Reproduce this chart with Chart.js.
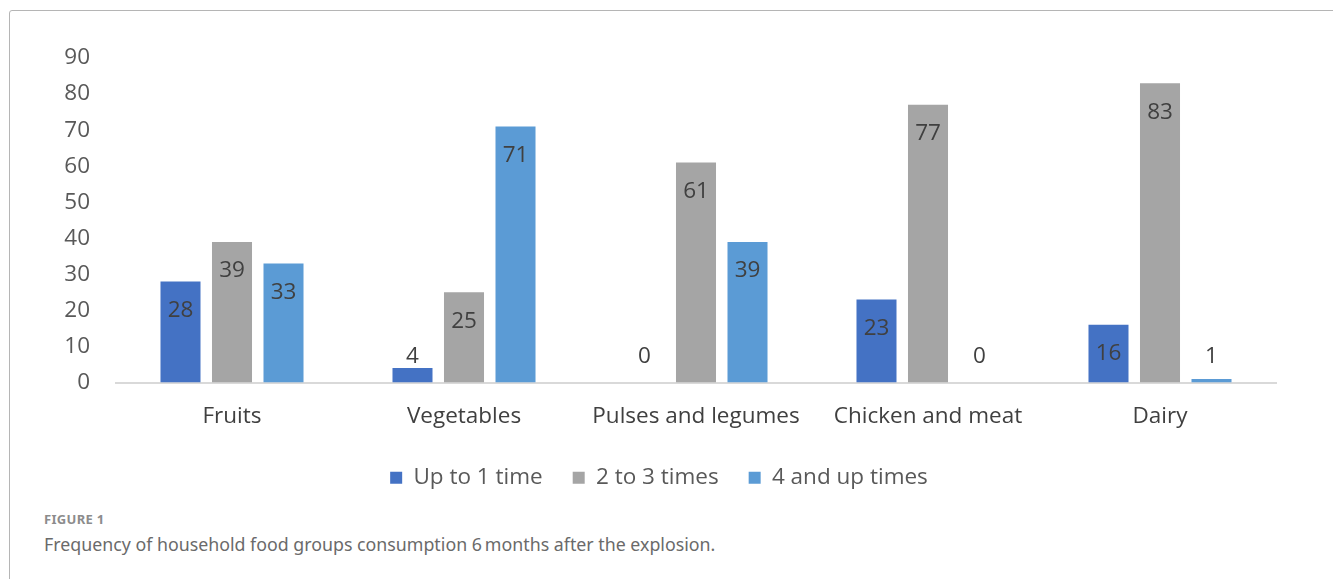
<!DOCTYPE html>
<html>
<head>
<meta charset="utf-8">
<script src="https://cdn.jsdelivr.net/npm/chart.js@4.4.0/dist/chart.umd.min.js"></script>
<style>
  html, body { margin: 0; padding: 0; background: #fff; }
  body { width: 1333px; height: 579px; position: relative; overflow: hidden; }
  #frame {
    position: absolute; left: 9px; top: 10px; width: 1330px; height: 600px;
    border: 1.5px solid #b5b5b5; border-radius: 3px; box-sizing: border-box;
  }
  #wrap { position: absolute; left: 10px; top: 11px; width: 1320px; height: 490px; }
  #fig-label {
    position: absolute; left: 44px; top: 510px; letter-spacing: 0.3px;
    font-family: 'Noto Sans', sans-serif; font-weight: bold; font-size: 13px; color: #8c8c8c;
  }
  #fig-caption {
    position: absolute; left: 44px; top: 532px;
    font-family: 'Noto Sans', sans-serif; font-size: 17.8px; color: #6a6a6a;
  }
</style>
</head>
<body>
<div id="frame"></div>
<div id="wrap"><canvas id="chart"></canvas></div>
<div id="fig-label">FIGURE 1</div>
<div id="fig-caption">Frequency of household food groups consumption 6&#8201;months after the explosion.</div>
<script>
const categories = ['Fruits', 'Vegetables', 'Pulses and legumes', 'Chicken and meat', 'Dairy'];
const upToOne = [28, 4, 0, 23, 16];
const twoToThree = [39, 25, 61, 77, 83];
const fourAndUp = [33, 71, 39, 0, 1];
const seriesNames = ['Up to 1 time', '2 to 3 times', '4 and up times'];
const yTicks = [0, 10, 20, 30, 40, 50, 60, 70, 80, 90];

const fontFamily = "'Open Sans', sans-serif";
const fontSize = 22.5;

// value labels: inside the bar top, pushed above when the bar is too short
const valueLabels = {
    id: 'valueLabels',
    afterDatasetsDraw(chart) {
        const ctx = chart.ctx;
        const base = chart.scales.y.getPixelForValue(0);
        ctx.save();
        ctx.font = fontSize + 'px ' + fontFamily;
        ctx.fillStyle = '#404040';
        ctx.textAlign = 'center';
        ctx.textBaseline = 'middle';
        chart.data.datasets.forEach((ds, i) => {
            chart.getDatasetMeta(i).data.forEach((bar, j) => {
                const y = Math.min(bar.y + 29, base - 26);
                ctx.fillText(String(ds.data[j]), bar.x, y);
            });
        });
        ctx.restore();
    }
};

new Chart(document.getElementById('chart'), {
    type: 'bar',
    data: {
        labels: categories,
        datasets: [
            { label: seriesNames[0], data: upToOne, backgroundColor: '#4472C4' },
            { label: seriesNames[1], data: twoToThree, backgroundColor: '#A5A5A5' },
            { label: seriesNames[2], data: fourAndUp, backgroundColor: '#5B9BD5' }
        ]
    },
    options: {
        responsive: true,
        maintainAspectRatio: false,
        animation: false,
        layout: { padding: { top: 47, right: 22, left: 0, bottom: 2 } },
        datasets: {
            bar: { categoryPercentage: 0.666, barPercentage: 0.777 }
        },
        plugins: {
            tooltip: { enabled: false },
            legend: {
                position: 'bottom',
                labels: {
                    color: '#595959',
                    font: { family: fontFamily, size: fontSize },
                    boxWidth: 12,
                    boxHeight: 12,
                    padding: 30
                }
            }
        },
        scales: {
            y: {
                min: 0,
                max: 90,
                afterBuildTicks: axis => { axis.ticks = yTicks.map(v => ({ value: v })); },
                afterFit: axis => { axis.width = 106; },
                grid: { display: false },
                border: { display: false },
                ticks: {
                    color: '#595959',
                    font: { family: fontFamily, size: fontSize },
                    padding: 18
                }
            },
            // empty right-hand spacer, keeps the plot end where it should be
            spacer: {
                type: 'linear',
                position: 'right',
                min: 0,
                max: 1,
                afterFit: axis => { axis.width = 32; },
                grid: { display: false },
                border: { display: false },
                ticks: { display: false }
            },
            x: {
                afterFit: axis => { axis.height = 54; },
                grid: { display: false },
                border: { display: true, color: '#D9D9D9', width: 2 },
                ticks: {
                    color: '#404040',
                    font: { family: fontFamily, size: fontSize },
                    padding: 13
                }
            }
        }
    },
    plugins: [valueLabels]
});
</script>
</body>
</html>
